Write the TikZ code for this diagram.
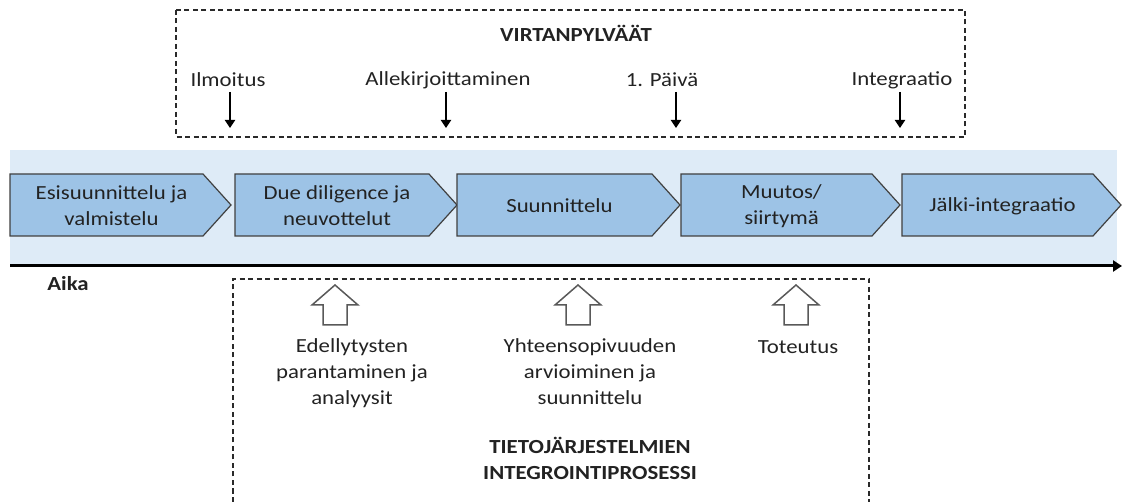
\documentclass[tikz,border=0pt]{standalone}
\usepackage{fontspec}
\setmainfont{Carlito}[FakeStretch=1.14]
\usetikzlibrary{arrows.meta}

\definecolor{bandblue}{HTML}{DEEBF7}
\definecolor{chevblue}{HTML}{9DC3E6}
\definecolor{chevline}{HTML}{404040}
\definecolor{ink}{HTML}{222222}
\definecolor{framec}{HTML}{2A2A2A}
\definecolor{arrowgray}{HTML}{595959}

\tikzset{
  band/.style={fill=bandblue, draw=none},
  chev/.style={fill=chevblue, draw=chevline, line width=1.2pt, line join=miter},
  lbl/.style={align=center, inner sep=0pt, text=ink},
  title/.style={lbl, font=\fontsize{20}{26}\selectfont\bfseries},
  frame/.style={draw=framec, line width=1.1pt, dash pattern=on 5pt off 3.5pt},
  milestone/.style={draw=black, line width=2pt, -{Triangle[length=8pt,width=10pt]}},
  timeaxis/.style={draw=black, line width=3pt, -{Triangle[length=9pt,width=11pt]}},
  hollow/.style={draw=arrowgray, line width=1.5pt, fill=white, line join=miter},
  uparrow/.pic={
    \draw[hollow] (0,0) -- (23,20) -- (12,20) -- (12,40) -- (-12,40)
      -- (-12,20) -- (-23,20) -- cycle;
  }
}

% phase chevron: name, left x, body right x, label
\newcommand\phasebox[4]{%
  \draw[chev] (#2,174) -- (#3,174) -- ({#3+28},205) -- (#3,236) -- (#2,236) -- cycle;
  \node[lbl] (#1) at ({(#2+#3)/2+5},206) {#4};
}

\begin{document}
\begin{tikzpicture}[x=1pt, y=-1pt, font=\fontsize{20}{26}\selectfont]
\useasboundingbox (0,0) rectangle (1125,502);

% milestones
\draw[frame] (176,10) rectangle (965,137);
\node[title] (vt) at (576,33) {VIRTANPYLVÄÄT};

\node[lbl] (m1) at (228,80) {Ilmoitus};
\node[lbl] (m2) at (448,80) {Allekirjoittaminen};
\node[lbl] (m3) at (662,80) {1. Päivä};
\node[lbl] (m4) at (902,80) {Integraatio};
\coordinate (m1a) at (230,92);  \coordinate (m1b) at (230,128);
\coordinate (m2a) at (446,92);  \coordinate (m2b) at (446,128);
\coordinate (m3a) at (676,92);  \coordinate (m3b) at (676,128);
\coordinate (m4a) at (900,92);  \coordinate (m4b) at (900,128);
\draw[milestone] (m1a) -- (m1b);
\draw[milestone] (m2a) -- (m2b);
\draw[milestone] (m3a) -- (m3b);
\draw[milestone] (m4a) -- (m4b);

% phase band and time axis
\fill[band] (10,150) rectangle (1117,266);
\coordinate (t0) at (10,266);
\coordinate (t1) at (1122,266);
\draw[timeaxis] (t0) -- (t1);
\node[title, anchor=center] (aika) at (68,284) {Aika};

\phasebox{p1}{10}{203}{Esisuunnittelu ja\\valmistelu}
\phasebox{p2}{235}{429}{Due diligence ja\\neuvottelut}
\phasebox{p3}{457}{652}{Suunnittelu}
\phasebox{p4}{681}{872}{Muutos/\\siirtymä}
\phasebox{p5}{902}{1093}{Jälki-integraatio}

% integration process
\draw[frame] (233,502) -- (233,279) -- (869,279) -- (869,502);
\pic (u1) at (335,285) {uparrow};
\pic (u2) at (578,285) {uparrow};
\pic (u3) at (796,285) {uparrow};
\node[lbl] (s1) at (352,373) {Edellytysten\\parantaminen ja\\analyysit};
\node[lbl] (s2) at (590,372) {Yhteensopivuuden\\arvioiminen ja\\suunnittelu};
\node[lbl] (s3) at (798,347) {Toteutus};
\node[title] (it) at (590,458) {TIETOJÄRJESTELMIEN\\INTEGROINTIPROSESSI};
\end{tikzpicture}
\end{document}
